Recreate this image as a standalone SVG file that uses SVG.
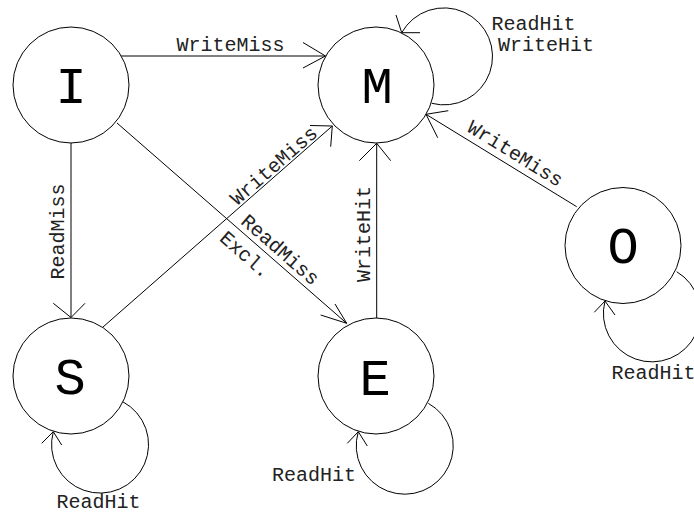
<svg xmlns="http://www.w3.org/2000/svg" width="694" height="514" viewBox="0 0 694 514">
<style>
.n{fill:#fff;stroke:#000;stroke-width:1}
.big{font-family:"Liberation Mono","Courier New",monospace;font-size:52px;fill:#000;text-anchor:middle}
.lbl{font-family:"Liberation Mono","Courier New",monospace;font-size:20px;fill:#222;text-anchor:middle}
.e{fill:none;stroke:#000;stroke-width:1}
</style>
<rect width="694" height="514" fill="#fff"/>
<g id="edges">
<path class="e" d="M121,56 L325.5,56"/>
<path class="e" d="M303,42.5 L325.5,56 L303,68"/>
<path class="e" d="M71,143 L71,317.5"/>
<path class="e" d="M53.3,303.3 L71,317.5 L85,303.3"/>
<path class="e" d="M117,123 L346.7,323.3"/>
<path class="e" d="M320.7,315 L346.7,323.3 L335,304"/>
<path class="e" d="M103,327 L332.3,126"/>
<path class="e" d="M310,125.5 L332.3,126 L330.7,146.7"/>
<path class="e" d="M376.7,318 L376.7,143.3"/>
<path class="e" d="M359.3,160.7 L376.7,143.3 L390.7,160.7"/>
<path class="e" d="M576.7,206.7 L426,114.3"/>
<path class="e" d="M448.3,110.7 L426,114.3 L437.7,137.7"/>
<path class="e" d="M431.7,103.3 A48.5,48.5 0 1 0 401.7,32.7"/>
<path class="e" d="M420,32.7 L401.7,32.7 L396,15"/>
<path class="e" d="M122.7,401.7 A48.5,48.5 0 1 1 53.3,431.7"/>
<path class="e" d="M41.7,443.3 L53.3,431.7 L61.7,445"/>
<path class="e" d="M428.3,403.3 A48.5,48.5 0 1 1 358.3,431.7"/>
<path class="e" d="M347.3,443.3 L358.3,431.7 L367.3,446"/>
<path class="e" d="M676.7,271.7 A48.5,48.5 0 1 1 605,301"/>
<path class="e" d="M594.3,312.3 L605,301 L615,315"/>
<text class="lbl" x="230.5" y="51">WriteMiss</text>
<text class="lbl" transform="translate(63.5,231.5) rotate(-90)">ReadMiss</text>
<text class="lbl" transform="translate(370,234) rotate(-90)">WriteHit</text>
<text class="lbl" transform="translate(278,170.5) rotate(-41.15)">WriteMiss</text>
<text class="lbl" transform="translate(276,254.5) rotate(41.1)">ReadMiss</text>
<text class="lbl" transform="translate(241,259.5) rotate(41.1)">Excl.</text>
<text class="lbl" transform="translate(512,159) rotate(31.5)">WriteMiss</text>
<text class="lbl" x="98.5" y="508">ReadHit</text>
<text class="lbl" x="314" y="481">ReadHit</text>
<text class="lbl" x="653.5" y="379">ReadHit</text>
<text class="lbl" x="533.5" y="30">ReadHit</text>
<text class="lbl" x="546" y="51">WriteHit</text>
</g>
<g id="node-I"><circle class="n" cx="71" cy="85" r="58"/><text class="big" x="71" y="102.5">I</text></g>
<g id="node-M"><circle class="n" cx="376" cy="85" r="58"/><text class="big" x="377" y="102.5">M</text></g>
<g id="node-S"><circle class="n" cx="71" cy="376" r="58"/><text class="big" x="70" y="394">S</text></g>
<g id="node-E"><circle class="n" cx="376" cy="376" r="58"/><text class="big" x="375" y="395">E</text></g>
<g id="node-O"><circle class="n" cx="623" cy="245.5" r="58"/><text class="big" x="623" y="263">O</text></g>
</svg>
